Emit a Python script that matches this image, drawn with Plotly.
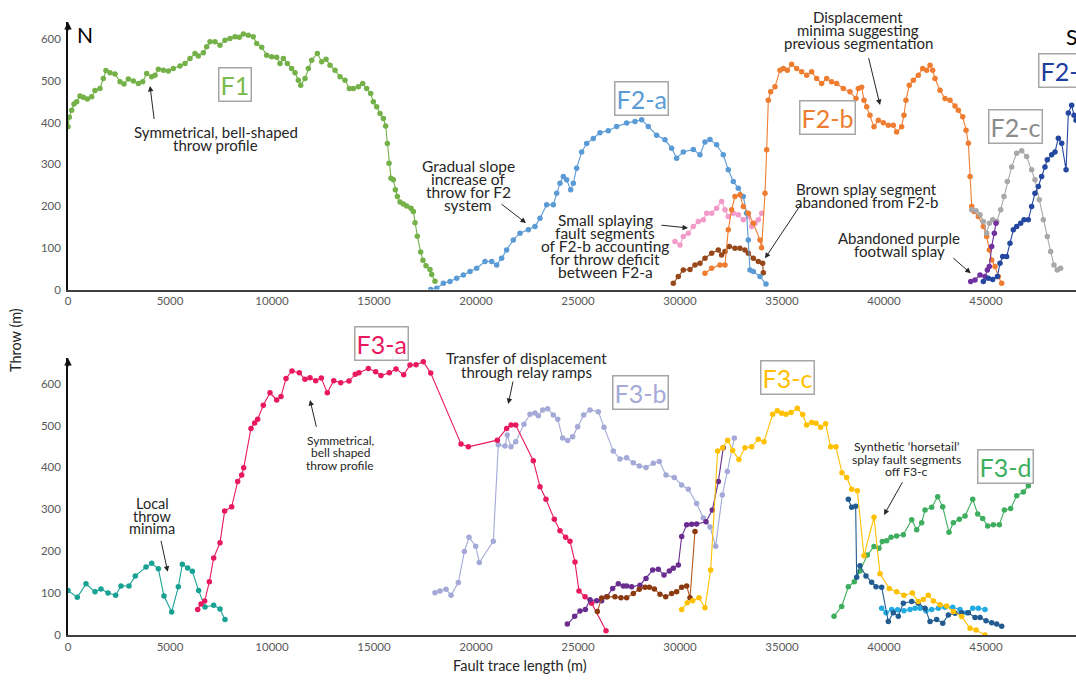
import plotly.graph_objects as go

# ---------------- data ----------------
tick_vals_x = [0, 5000, 10000, 15000, 20000, 25000, 30000, 35000, 40000, 45000]
tick_text_x = ["0", "5000", "10000", "15000", "20000", "25000", "30000", "35000", "40000", "45000"]
tick_vals_y = [0, 100, 200, 300, 400, 500, 600]
tick_text_y = ["0", "100", "200", "300", "400", "500", "600"]

# Top panel (F1 / F2 system)
F1_x = [0, 65, 180, 294, 425, 588, 752, 948, 1160, 1324, 1569, 1732, 1863, 2059, 2304, 2549, 2745, 2958, 3203, 3448,
        3660, 3856, 4101, 4265, 4428, 4673, 4918, 5163, 5490, 5735, 5981, 6226, 6389, 6634, 6797, 6961, 7206, 7451,
        7696, 7941, 8186, 8399, 8595, 8840, 9085, 9249, 9494, 9739, 9984, 10229, 10392, 10556, 10752, 10964, 11128,
        11291, 11406, 11618, 11782, 11945, 12223, 12436, 12648, 12844, 13089, 13334, 13579, 13791, 13988, 14233,
        14445, 14641, 14837, 14968, 15131, 15294, 15458, 15572, 15654, 15736, 15834, 15948, 16046, 16144, 16275,
        16438, 16601, 16814, 16928, 17010, 17124, 17288, 17400, 17549, 17745, 17827, 17990]
F1_y = [390, 413, 430, 445, 450, 464, 461, 457, 462, 477, 482, 506, 525, 520, 517, 498, 493, 505, 500, 494,
        498, 518, 510, 514, 528, 526, 524, 530, 536, 542, 554, 566, 560, 568, 582, 594, 594, 586,
        598, 602, 606, 605, 613, 610, 606, 590, 581, 562, 558, 557, 542, 554, 542, 530, 520,
        502, 490, 506, 530, 550, 566, 546, 552, 538, 526, 510, 502, 482, 482, 486,
        494, 482, 470, 450, 438, 422, 410, 392, 350, 303, 267, 263, 239, 223, 210,
        205, 200, 195, 187, 160, 128, 90, 70, 57, 48, 36, 20]

F2a_x = [17780, 18074, 18400, 18726, 19053, 19380, 19706, 20033, 20441, 20768, 21013, 21258, 21503, 21830, 22157,
         22565, 22892, 23137, 23464, 23790, 23954, 24117, 24281, 24444, 24640, 24771, 24934, 25179, 25425, 25751,
         26078, 26486, 26895, 27385, 27793, 28120, 28446, 28855, 29263, 29590, 29835, 30162, 30652, 30979, 31224,
         31469, 31796, 32122, 32367, 32612, 32857, 33102, 33266, 33348, 33430, 33593, 33920, 34214]
F2a_y = [0, 3, 15, 19, 27, 35, 43, 51, 67, 67, 59, 75, 95, 119, 135,
         143, 151, 171, 203, 203, 231, 255, 271, 263, 239, 255, 291, 330, 350, 362,
         376, 381, 391, 399, 403, 407, 391, 370, 359, 339, 315, 330, 336, 323, 354,
         360, 347, 323, 287, 259, 243, 223, 183, 119, 47, 43, 31, 13]

F2b_x = [31224, 31551, 31960, 32205, 32367, 32530, 32694, 32939, 33102, 33348, 33593, 33920, 34000, 34166, 34248,
         34330, 34445, 34656, 34901, 35064, 35261, 35474, 35719, 35964, 36209, 36454, 36699, 36944, 37189, 37434,
         37679, 38006, 38332, 38626, 38741, 38904, 39019, 39150, 39313, 39510, 39722, 39967, 40212, 40457, 40620,
         40865, 40978, 41076, 41241, 41437, 41682, 41897, 42093, 42256, 42387, 42501, 42746, 42991, 43236, 43481,
         43645, 43858, 44023, 44137, 44219, 44300, 44413, 44625, 44870, 45034, 45164, 45279, 45442, 45605, 45769]
F2b_y = [39, 51, 59, 59, 143, 191, 223, 227, 199, 183, 159, 119, 100, 231, 335,
         454, 474, 486, 526, 530, 526, 540, 530, 522, 514, 522, 506, 494, 506, 498,
         494, 482, 474, 458, 482, 485, 454, 438, 418, 390, 406, 400, 394, 394, 378,
         390, 418, 454, 490, 502, 514, 530, 526, 538, 526, 506, 478, 458, 454, 440,
         430, 414, 382, 351, 271, 199, 187, 175, 151, 127, 95, 71, 55, 31, 15]

F2c_x = [44300, 44511, 44707, 44870, 45034, 45164, 45328, 45524, 45720, 45883, 46046, 46258, 46503, 46748, 46993,
         47238, 47401, 47613, 47809, 48005, 48170, 48332, 48495, 48658]
F2c_y = [191, 189, 179, 163, 135, 159, 167, 163, 191, 223, 259, 294, 327, 333, 319,
         287, 263, 215, 167, 127, 91, 59, 47, 51]

F2d_x = [44870, 45115, 45328, 45556, 45687, 45818, 46013, 46176, 46340, 46503, 46699, 46863, 47074, 47238, 47401,
         47564, 47728, 47891, 48005, 48219, 48383, 48546, 48711, 48925, 49036, 49199, 49314, 49412, 49600]
F2d_y = [19, 27, 24, 31, 63, 79, 79, 111, 143, 151, 159, 167, 167, 199, 231,
         247, 271, 294, 311, 323, 330, 363, 351, 287, 423, 442, 418, 406, 400]

purple2_x = [44250, 44462, 44707, 44952, 45066, 45164, 45279, 45409, 45491]
purple2_y = [19, 23, 35, 31, 47, 55, 103, 135, 159]

pink_x = [29754, 30000, 30163, 30408, 30653, 30898, 31143, 31307, 31552, 31797, 32042, 32205, 32367, 32612, 32857,
          33102, 33348, 33513, 33676, 33839, 34004]
pink_y = [115, 107, 127, 135, 151, 163, 167, 183, 183, 195, 211, 191, 175, 183, 179,
          167, 175, 151, 159, 167, 183]

brown2_x = [29672, 29917, 30163, 30490, 30735, 30980, 31225, 31552, 31879, 32042, 32205, 32417, 32694, 32939, 33184,
            33348, 33593, 33839, 34052, 34085]
brown2_y = [15, 31, 47, 48, 59, 63, 75, 87, 95, 83, 91, 103, 99, 99, 95,
            87, 75, 67, 63, 40]

# Bottom panel (F3 system)
teal_x = [0, 456, 882, 1323, 1618, 1961, 2336, 2598, 2990, 3300, 3823, 4102, 4428, 4706, 5082, 5408, 5604, 5866,
          6095, 6405, 6716, 7141, 7451, 7696]
teal_y = [106, 90, 122, 103, 110, 100, 95, 117, 117, 141, 162, 171, 158, 93, 55, 115, 169, 160,
          152, 106, 67, 71, 62, 37]

F3a_x = [6357, 6520, 6700, 6928, 7141, 7451, 7680, 8024, 8318, 8514, 8612, 8970, 9150, 9297, 9573, 9902, 10230,
         10441, 10686, 10980, 11339, 11617, 11862, 12142, 12417, 12711, 13024, 13367, 13774, 14083, 14265, 14722,
         15082, 15343, 15750, 16078, 16455, 16765, 17059, 17418, 17780, 19265, 19624, 21046, 21503, 21716, 21945,
         22810, 23137, 23431, 23839, 24117, 24395, 24608, 24853, 25049, 25344, 25669, 26373]
F3a_y = [61, 74, 81, 127, 184, 220, 296, 306, 366, 382, 399, 493, 506, 515, 548, 578, 561,
         569, 612, 630, 626, 610, 614, 607, 613, 578, 607, 602, 606, 622, 626, 636,
         628, 619, 626, 635, 621, 644, 645, 652, 625, 456, 449, 465, 493, 501, 501,
         416, 354, 324, 276, 249, 233, 224, 174, 105, 91, 76, 10]

F3b_x = [17990, 18236, 18530, 18775, 19134, 19429, 19658, 19984, 20163, 20849, 21094, 21422, 21536, 21716, 21945,
         22353, 22647, 22892, 23055, 23268, 23513, 23790, 24004, 24248, 24493, 24738, 24983, 25278, 25589, 25996,
         26274, 26731, 27058, 27385, 27712, 28006, 28334, 28693, 28986, 29313, 29721, 30082, 30408, 30816, 31143,
         31470, 31748, 32073, 32319, 32662]
F3b_y = [101, 105, 109, 95, 125, 199, 233, 212, 173, 224, 454, 451, 477, 449, 461,
         503, 527, 530, 523, 537, 540, 525, 515, 470, 464, 473, 497, 525, 537, 533,
         496, 439, 420, 423, 411, 403, 400, 410, 414, 382, 376, 358, 348, 314, 279,
         258, 212, 334, 390, 470]

purple3_x = [24477, 24836, 25098, 25361, 25589, 25915, 26160, 26405, 26699, 26976, 27222, 27385, 27630, 28039, 28334,
             28661, 28937, 29216, 29477, 29672, 29917, 30082, 30327, 30572, 30816, 31274, 31584, 31879, 32122]
purple3_y = [26, 45, 57, 61, 84, 82, 82, 91, 111, 122, 117, 117, 115, 119, 135,
             155, 157, 143, 153, 159, 167, 235, 263, 264, 265, 270, 298, 366, 447]

brown3_x = [25947, 26160, 26437, 26813, 27107, 27385, 27712, 28006, 28285, 28497, 28742, 29020, 29298, 29590, 29835,
            30082, 30327, 30490, 30735]
brown3_y = [56, 88, 91, 91, 89, 89, 99, 109, 114, 114, 110, 97, 91, 99, 103,
            114, 117, 89, 247]

F3c_x = [30082, 30359, 30621, 30931, 31225, 31503, 31846, 32090, 32335, 32580, 32889, 33184, 33513, 33839, 34118,
         34542, 34770, 34985, 35196, 35441, 35751, 36014, 36209, 36454, 36667, 36896, 37141, 37386, 37646, 37940,
         38170, 38415, 38692, 39019, 39510, 39804, 40260, 40620, 40979, 41388, 41682, 41926, 42171, 42420, 42746,
         43073, 43399, 43810, 44218, 44512, 44950]
F3c_y = [61, 77, 82, 89, 65, 155, 439, 447, 465, 440, 419, 447, 449, 467, 461,
         527, 535, 529, 527, 531, 541, 526, 501, 507, 505, 496, 504, 449, 449, 387,
         376, 348, 344, 189, 281, 146, 111, 103, 95, 100, 80, 85, 95, 81, 72,
         69, 56, 44, 16, 12, 0]

navy_x = [38252, 38415, 38611, 38660, 38823, 39117, 39396, 39607, 39886, 40212, 40457, 40702, 40947, 41357, 41682,
          42011, 42256, 42583, 42878, 43155, 43482, 43810, 44136, 44463, 44708, 45002, 45279, 45524, 45769]
navy_y = [324, 305, 307, 138, 165, 141, 126, 115, 114, 32, 53, 45, 76, 80, 76,
          64, 32, 37, 28, 48, 52, 53, 53, 42, 42, 34, 29, 26, 21]

lightblue_x = [39886, 40098, 40377, 40670, 40979, 41274, 41520, 41766, 42060, 42339, 42665, 42992, 43367, 43726,
               44055, 44349, 44627, 44951]
lightblue_y = [64, 53, 61, 60, 58, 61, 64, 64, 58, 61, 64, 66, 66, 61,
               53, 64, 64, 61]

F3d_x = [37550, 37925, 38252, 38546, 38823, 39182, 39510, 39755, 39918, 40131, 40343, 40620, 40947, 41357, 41601,
         41845, 42011, 42338, 42632, 42878, 43187, 43400, 43694, 43973, 44349, 44595, 44839, 45084, 45361, 45655,
         45900, 46210, 46505, 46832, 47077]
F3d_y = [45, 68, 115, 127, 153, 191, 211, 207, 223, 225, 233, 236, 239, 275, 251,
         268, 298, 305, 330, 306, 245, 268, 276, 284, 324, 289, 278, 260, 263, 263,
         298, 302, 332, 341, 356]

# ---------------- layout constants ----------------
W, H = 1076, 681
ML = 68
PW = W - ML
XMAX = 49412
FONT = "Lato"
TXT = "#262626"


def px_x(px):
    return (px - ML) / PW


def px_y(py):
    return (H - py) / H


fig = go.Figure()


def add(x, y, color, panel, lc=None, ms=5.5, lw=1.1):
    fig.add_trace(go.Scatter(
        x=x, y=y, mode="lines+markers",
        line=dict(color=lc or color, width=lw),
        marker=dict(color=color, size=ms),
        xaxis="x" if panel == 1 else "x2", yaxis="y" if panel == 1 else "y2",
        showlegend=False, hoverinfo="skip"))


# top panel traces
add(F1_x, F1_y, "#74B148", 1)
add(pink_x, pink_y, "#F29BC8", 1)
add(brown2_x, brown2_y, "#97481A", 1)
add(F2a_x, F2a_y, "#5B9BD5", 1)
add(F2b_x, F2b_y, "#EE7D31", 1)
add(F2c_x, F2c_y, "#A8A8A8", 1)
add(purple2_x, purple2_y, "#7030A0", 1)
add(F2d_x, F2d_y, "#2447A0", 1)

# bottom panel traces
add(teal_x, teal_y, "#17A294", 2)
add(F3b_x, F3b_y, "#A4A9D8", 2)
add(F3a_x, F3a_y, "#E8195E", 2)
add(purple3_x, purple3_y, "#6A2D8F", 2)
add(brown3_x, brown3_y, "#8B3A10", 2, lc="#B4551E")
add(F3d_x, F3d_y, "#3DAE5E", 2)
add(lightblue_x, lightblue_y, "#22ABE3", 2)
add(navy_x, navy_y, "#215B90", 2)
add(F3c_x, F3c_y, "#FFC000", 2)

axis_x = dict(range=[0, XMAX], domain=[0, 1], showline=True, linecolor="#3F3F3F", linewidth=2,
              showgrid=False, zeroline=False, ticks="", tickvals=tick_vals_x, ticktext=tick_text_x,
              automargin=False,
              tickfont=dict(family=FONT, size=11.5, color="#595959"), fixedrange=True)
axis_y = dict(showline=True, linecolor="#111111", linewidth=1.5, showgrid=False, zeroline=False, ticks="",
              tickvals=tick_vals_y, ticktext=tick_text_y, ticklabelstandoff=3, automargin=False,
              tickfont=dict(family=FONT, size=11.5, color="#595959"), fixedrange=True)

Y1MAX = 641.5
Y2MAX = 661

fig.update_layout(
    width=W, height=H,
    margin=dict(l=ML, r=0, t=0, b=0, autoexpand=False),
    paper_bgcolor="white", plot_bgcolor="white",
    xaxis=dict(axis_x, anchor="y"),
    yaxis=dict(axis_y, anchor="x", domain=[px_y(289.5), px_y(22)], range=[0, Y1MAX]),
    xaxis2=dict(axis_x, anchor="y2"),
    yaxis2=dict(axis_y, anchor="x2", domain=[px_y(635), px_y(358)], range=[0, Y2MAX]),
    font=dict(family=FONT),
)

ann = []

# y-axis arrowheads
ann.append(dict(x=0, y=Y1MAX, xref="x", yref="y", ax=0, ay=10, text="", showarrow=True,
                arrowhead=2, arrowsize=1, arrowwidth=1.5, arrowcolor="#111111"))
ann.append(dict(x=0, y=Y2MAX, xref="x2", yref="y2", ax=0, ay=10, text="", showarrow=True,
                arrowhead=2, arrowsize=1, arrowwidth=1.5, arrowcolor="#111111"))


def lines(texts, cx, y0, dy, size, color=TXT):
    for i, t in enumerate(texts):
        ann.append(dict(x=px_x(cx), y=px_y(y0 + i * dy), xref="paper", yref="paper", text=t,
                        showarrow=False, xanchor="center", yanchor="middle",
                        font=dict(family=FONT, size=size, color=color)))


def arrow(x0, y0, x1, y1):
    ann.append(dict(x=px_x(x1), y=px_y(y1), xref="paper", yref="paper", ax=x0 - x1, ay=y0 - y1,
                    text="", showarrow=True, arrowhead=2, arrowsize=1.1, arrowwidth=1, arrowcolor="#262626"))


def box(t, cx, cy, color, size=25):
    ann.append(dict(x=px_x(cx), y=px_y(cy), xref="paper", yref="paper", text=t, showarrow=False,
                    xanchor="center", yanchor="middle", bgcolor="white", bordercolor="#A6A6A6",
                    borderwidth=1.5, borderpad=1, font=dict(family=FONT, size=size, color=color)))


# labels in boxes
box("F1", 235, 85, "#7CBA4E")
box("F2-a", 641.5, 98, "#5B9BD5")
box("F2-b", 827, 117, "#EE7D31")
box("F2-c", 1015.5, 126, "#8C8C8C")
box("F2-d", 1066, 70, "#1F3F9F")
box("F3-a", 381, 344, "#E8195E")
box("F3-b", 640, 392, "#A4A9D8")
box("F3-c", 787, 377, "#FFC000")
box("F3-d", 1005.5, 466, "#3DAE5E")

lines(["N"], 85, 35, 0, 21, "#000000")
lines(["S"], 1071, 37, 0, 21, "#000000")

# explanatory notes
lines(["Symmetrical, bell-shaped", "throw profile"], 215.5, 132.5, 12.8, 15)
arrow(154.3, 120.5, 150, 86)

lines(["Gradual slope", "increase of", "throw for F2", "system"], 468.3, 166, 12.9, 15.5)
arrow(500, 203, 526, 223)

lines(["Small splaying", "fault segments", "of F2-b accounting", "for throw deficit", "between F2-a"],
      605, 220, 13, 15.5)
arrow(660, 225, 688, 228)

lines(["Brown splay segment", "abandoned from F2-b"], 866.7, 189.3, 12.6, 15)
arrow(801.7, 203.3, 765, 258.3)

lines(["Displacement", "minima suggesting", "previous segmentation"], 858.3, 16.7, 12.9, 15)
arrow(868.3, 56.7, 880, 105)

lines(["Abandoned purple", "footwall splay"], 899, 238.3, 12.6, 15)
arrow(951.7, 256.7, 970.7, 273.3)

lines(["Transfer of displacement", "through relay ramps"], 526.7, 358.3, 13.4, 15)
arrow(513.3, 380, 508.3, 404)

lines(["Symmetrical,", "bell shaped", "throw profile"], 340, 440, 12.7, 12)
arrow(316.7, 428.3, 310, 400)

lines(["Local", "throw", "minima"], 152.3, 503.3, 12.8, 14.5)
arrow(160.7, 539.3, 167.7, 571.7)

lines(["Synthetic \u2018horsetail\u2019", "splay fault segments", "off F3-c"], 906.7, 446.7, 12.5, 12.3)
arrow(903.3, 480.7, 884, 515)

# axis titles
ann.append(dict(x=px_x(15), y=px_y(340), xref="paper", yref="paper", text="Throw (m)", textangle=-90,
                showarrow=False, xanchor="center", yanchor="middle",
                font=dict(family=FONT, size=14.5, color=TXT)))
ann.append(dict(x=px_x(520), y=px_y(665), xref="paper", yref="paper", text="Fault trace length (m)",
                showarrow=False, xanchor="center", yanchor="middle",
                font=dict(family=FONT, size=14.5, color=TXT)))

fig.update_layout(annotations=ann)
fig.write_html("out.html", config={"displayModeBar": False},
               post_script="document.body.style.margin='0';document.body.style.overflow='hidden';")
